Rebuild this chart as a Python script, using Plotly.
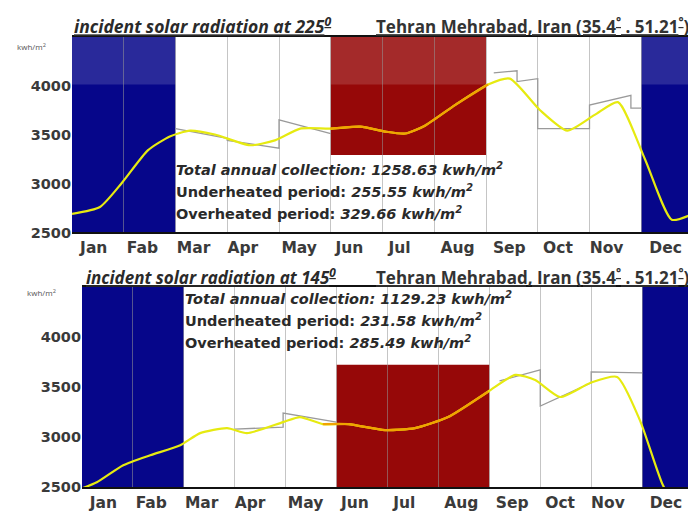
import plotly.graph_objects as go

# ---------------- data ----------------
months = ["Jan", "Fab", "Mar", "Apr", "May", "Jun", "Jul", "Aug", "Sep", "Oct", "Nov", "Dec"]
month_label_pos = [0.42, 1.36, 2.35, 3.30, 4.39, 5.36, 6.33, 7.45, 8.45, 9.39, 10.33, 11.47]
month_bounds = [1, 2, 3, 4, 5, 6, 7, 8, 9, 10, 11]
y_ticks = [2500, 3000, 3500, 4000]

# top chart (225 deg) - smoothed curve (x in months)
t225_x = [0, 0.54, 0.97, 1.47, 1.89, 2.28, 2.76, 3.44, 3.92, 4.41, 4.99, 5.57, 6.05, 6.44,
          6.82, 7.40, 8.04, 8.46, 9.04, 9.57, 10.10, 10.55, 11.07, 11.59, 12.0]
t225_y = [2690, 2760, 3010, 3340, 3480, 3540, 3500, 3390, 3440, 3560, 3560, 3580, 3530, 3510,
          3590, 3800, 4010, 4070, 3750, 3540, 3700, 3830, 3250, 2630, 2690]
# top chart - monthly step line (gray)
g225_x = [2, 3, 3, 4, 4, 5, None, 8.15, 8.6, 8.6, 9, 9, 10, 10, 10.8, 10.8, 11]
g225_y = [3560, 3460, 3440, 3360, 3650, 3510, None, 4130, 4150, 4040, 4070, 3560, 3560, 3800, 3900, 3770, 3770]

# bottom chart (145 deg)
t145_x = [0, 0.29, 0.81, 1.34, 1.93, 2.32, 2.85, 3.24, 3.95, 4.28, 4.73, 5.23, 5.95, 6.54,
          7.19, 7.98, 8.51, 8.90, 9.39, 9.98, 10.51, 10.96, 11.41, 11.75, 12.0]
t145_y = [2490, 2550, 2720, 2820, 2920, 3040, 3090, 3040, 3150, 3200, 3130, 3130, 3070, 3090,
          3200, 3455, 3620, 3570, 3400, 3540, 3600, 3165, 2520, 2250, 2200]
g145_x = [3, 3.95, 3.95, 5, None, 8.2, 9, 9, 10, 10, 11]
g145_y = [3080, 3100, 3240, 3150, None, 3560, 3670, 3310, 3540, 3650, 3640]

# periods
under_a = (0, 2)
under_b = (11, 12)
over = (5, 8)
over_top_min = 3290
over_bot_max = 3720

stats_225 = ["1258.63", "255.55", "329.66"]
stats_145 = ["1129.23", "231.58", "285.49"]

BLUE = "#06068a"
RED = "#960808"
YEL = "#e6ea10"
ORA = "#f0a400"
GRAY = "#9a9a9a"

# page has an 8px body margin: figure is drawn 8px in from the window corner
OFF = 8
W, H = 688, 510
def px(x):
    return (x - OFF) / W
def py(y):
    return 1 - (y - OFF) / H

fig = go.Figure()

def split(xs, ys, a, b):
    ix = [i for i, x in enumerate(xs) if a - 0.3 <= x <= b + 0.3]
    return [xs[i] for i in ix], [ys[i] for i in ix]

for (xs, ys, gx, gy, xa, ya) in [(t225_x, t225_y, g225_x, g225_y, "x", "y"),
                                  (t145_x, t145_y, g145_x, g145_y, "x2", "y2")]:
    fig.add_trace(go.Scatter(x=gx, y=gy, mode="lines", line=dict(color=GRAY, width=1.3),
                             xaxis=xa, yaxis=ya, showlegend=False, hoverinfo="skip"))
    fig.add_trace(go.Scatter(x=xs, y=ys, mode="lines", line=dict(color=YEL, width=2.2, shape="spline", smoothing=0.6),
                             xaxis=xa, yaxis=ya, showlegend=False))
    ox, oy = split(xs, ys, *over)
    fig.add_trace(go.Scatter(x=ox, y=oy, mode="lines", line=dict(color=ORA, width=2.2, shape="spline", smoothing=0.6),
                             xaxis=xa, yaxis=ya, showlegend=False))

shapes = []
for xr, yr in [("x", "y"), ("x2", "y2")]:
    for (a, b) in (under_a, under_b):
        shapes.append(dict(type="rect", xref=xr, yref=yr + " domain", x0=a, x1=b, y0=0, y1=1,
                           fillcolor=BLUE, line_width=0, layer="below"))
shapes.append(dict(type="rect", xref="x", yref="y", x0=over[0], x1=over[1], y0=over_top_min, y1=4500,
                   fillcolor=RED, line_width=0, layer="below"))
shapes.append(dict(type="rect", xref="x2", yref="y2", x0=over[0], x1=over[1], y0=2500, y1=over_bot_max,
                   fillcolor=RED, line_width=0, layer="below"))
# faded band (scan look) at top of upper chart
shapes.append(dict(type="rect", xref="x", yref="y", x0=0, x1=12, y0=4010, y1=4500,
                   fillcolor="rgba(255,255,255,0.14)", line_width=0, layer="below"))

fig.update_layout(shapes=shapes)

x_font = dict(family="DejaVu Sans", size=15.5, color="#3a3a3a", weight="bold")
y_font = dict(family="DejaVu Sans", size=14.5, color="#3a3a3a", weight="bold")
common_x = dict(range=[0, 12], tickvals=month_label_pos, ticktext=months, showgrid=False,
                zeroline=False, showline=True, linecolor="#111", linewidth=2, mirror=True,
                ticks="", tickfont=x_font,
                minor=dict(tickvals=month_bounds, showgrid=True, gridcolor="rgba(150,150,150,0.55)", gridwidth=1, ticks=""))
common_y = dict(range=[2500, 4500], tickvals=y_ticks, showgrid=False, zeroline=False, showline=False,
                ticks="", tickfont=y_font)

fig.update_layout(
    width=W, height=H,
    margin=dict(l=0, r=0, t=0, b=0),
    paper_bgcolor="white", plot_bgcolor="white",
    xaxis=dict(domain=[px(72), px(693)], anchor="y", **common_x),
    yaxis=dict(domain=[py(236), py(37)], anchor="x", **common_y),
    xaxis2=dict(domain=[px(82), px(693)], anchor="y2", **common_x),
    yaxis2=dict(domain=[py(495), py(291)], anchor="x2", **common_y),
)

ann = []
def text(x, y, s, size=13, anchor="left", color="#2a2a2a", weight="bold", family="Open Sans"):
    ann.append(dict(x=px(x), y=py(y), xref="paper", yref="paper", text=s, showarrow=False,
                    xanchor=anchor, yanchor="middle",
                    font=dict(family=family, size=size, color=color, weight=weight)))

text(72, 26, "<i><u>incident solar radiation at 225<sup>0</sup></u></i>", 17.5)
text(692, 26, "<u>Tehran Mehrabad, Iran (35.4<sup>°</sup> . 51.21<sup>°</sup>)</u>", 17, anchor="right", color="#333")
text(84, 281, "<i><u>incident solar radiation at 145<sup>0</sup></u></i>", 17)
text(692, 281, "<u>Tehran Mehrabad, Iran (35.4<sup>°</sup> . 51.21<sup>°</sup>)</u>", 17, anchor="right", color="#333")
text(15, 47, "kwh/m<sup>2</sup>", 8, color="#555", weight="normal")
text(25, 297, "kwh/m<sup>2</sup>", 8, color="#555", weight="normal")

for (x0, y0, st) in [(174, 172, stats_225), (183, 303, stats_145)]:
    text(x0, y0, "<i>Total annual collection: " + st[0] + " kwh/m<sup>2</sup></i>", 14.5, family="DejaVu Sans")
    text(x0, y0 + 22, "Underheated period: <i>" + st[1] + " kwh/m<sup>2</sup></i>", 14.5, family="DejaVu Sans")
    text(x0, y0 + 44, "Overheated period: <i>" + st[2] + " kwh/m<sup>2</sup></i>", 14.5, family="DejaVu Sans")

fig.update_layout(annotations=ann)
fig.write_html("out.html")
